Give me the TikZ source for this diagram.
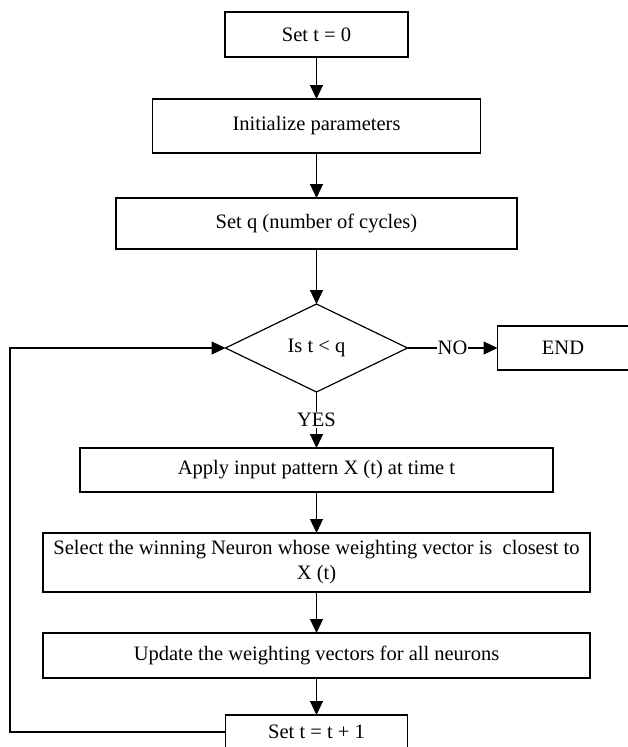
\documentclass[tikz,border=0pt]{standalone}
\usepackage{fontspec}
\setmainfont{Liberation Serif}
\usepackage{tikz}
\usetikzlibrary{shapes.geometric, arrows.meta, positioning}

\tikzset{
  process/.style={draw, rectangle, line width=1.2pt, inner sep=0pt, outer sep=0pt, align=center,
    font=\fontsize{20.5}{25}\selectfont},
  decision/.style={draw, diamond, aspect=2.06, line width=1.2pt, inner sep=0pt, outer sep=0pt,
    minimum width=182pt, minimum height=88pt, font=\fontsize{20.5}{25}\selectfont},
  line/.style={line width=1.2pt, -{Triangle[length=14pt,width=13pt]}},
  lbl/.style={fill=white, inner sep=1pt, font=\fontsize{20.5}{25}\selectfont}
}

\begin{document}
\begin{tikzpicture}[x=1pt, y=-1pt]
\useasboundingbox (0,0) rectangle (627,747);

% Start
\node[process, minimum width=183pt, minimum height=45pt] (start) at (316.5,34.5) {Set t = 0};
\node[process, minimum width=328pt, minimum height=54pt, below=42pt of start] (init) {Initialize parameters};
\node[process, minimum width=401pt, minimum height=51pt, below=45pt of init] (cycles) {Set q (number of cycles)};

% Decision
\node[decision, below=55pt of cycles] (check) {Is t < q};
\node[process, minimum width=131pt, minimum height=44pt, right=90pt of check, anchor=west] (finish) {END};

% Loop body
\node[process, minimum width=473pt, minimum height=44pt, below=56pt of check] (apply) {Apply input pattern X (t) at time t};
\node[process, minimum width=547pt, minimum height=59pt, below=41pt of apply] (select) {Select the winning Neuron whose weighting vector is\ \ closest to\\X (t)};
\node[process, minimum width=547pt, minimum height=45pt, below=41pt of select] (update) {Update the weighting vectors for all neurons};
\node[process, minimum width=182pt, minimum height=34pt, below=37pt of update] (incr) {Set t = t + 1};

\coordinate (back) at (10,0);

% Connectors
\draw[line] (start) -- (init);
\draw[line] (init) -- (cycles);
\draw[line] (cycles) -- (check);
\draw[line] (check) -- node[lbl] {NO} (finish);
\draw[line] (check) -- node[lbl] {YES} (apply);
\draw[line] (apply) -- (select);
\draw[line] (select) -- (update);
\draw[line] (update) -- (incr);
\draw[line] (incr.west) -- (incr.west -| back) |- (check.west);
\end{tikzpicture}
\end{document}
